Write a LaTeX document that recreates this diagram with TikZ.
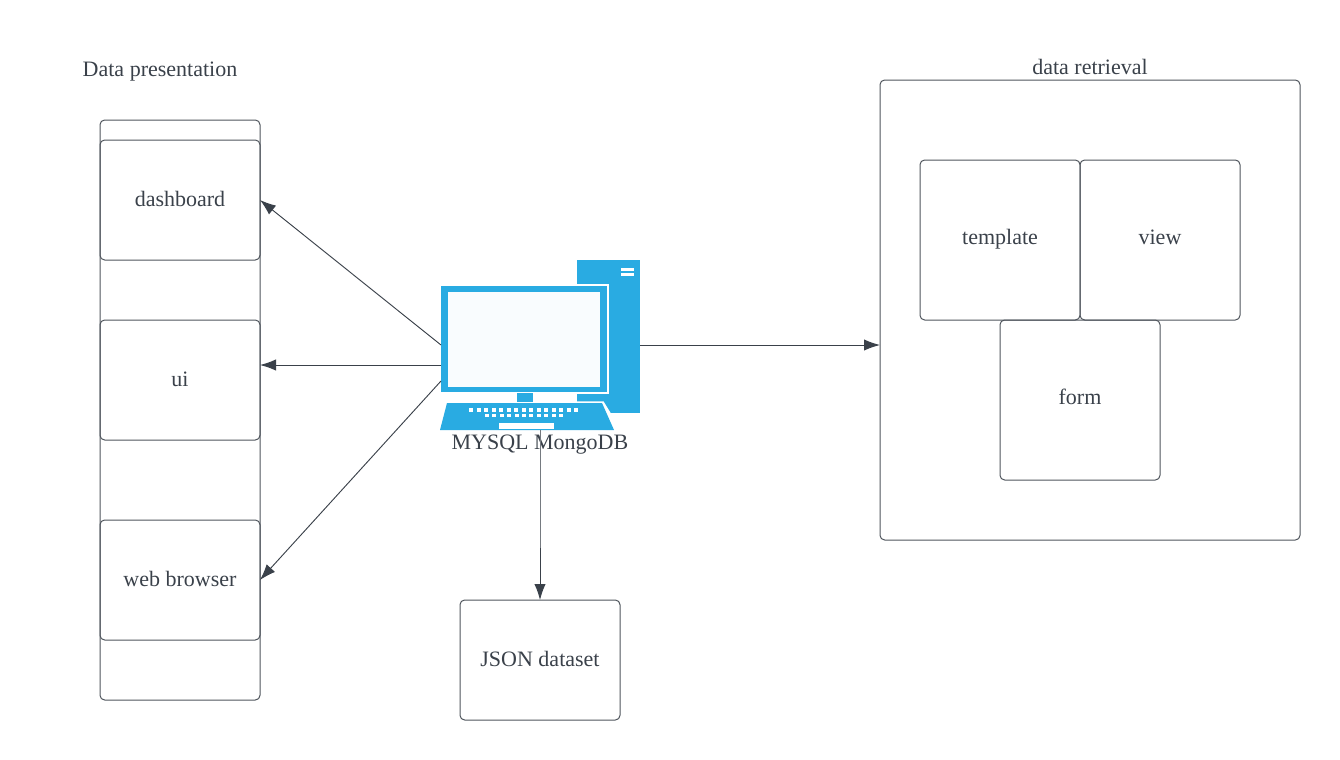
\documentclass[tikz,border=0pt]{standalone}
\usepackage{fontspec}
\setmainfont{Liberation Serif}
\usepackage{tikz}
\usetikzlibrary{arrows.meta,positioning}
\usepackage{xcolor}
\definecolor{ink}{HTML}{3A414A}
\definecolor{pcblue}{HTML}{29ABE2}
\definecolor{screen}{HTML}{F9FCFE}
\tikzset{
  >={Latex[length=12pt,width=8.5pt]},
  every node/.style={font=\fontsize{16.5}{19}\selectfont,text=ink,text height=12pt,text depth=2pt},
  box/.style={draw=ink!90,line width=.75pt,rounded corners=3.5pt,outer sep=0pt,inner sep=0pt,minimum width=120pt,minimum height=90pt,align=center},
  listbox/.style={box,minimum height=435pt},
  framebox/.style={box,minimum width=315pt,minimum height=345pt},
  tallbox/.style={box,minimum height=120pt,text height=10.5pt,text depth=3.5pt},
  title/.style={inner sep=0pt},
  arrow/.style={->,line width=.7pt,draw=ink},
  thinline/.style={line width=.6pt,draw=ink!70},
  pcwhite/.style={fill=white,draw=none},
}
\begin{document}
\begin{tikzpicture}[x=.75pt,y=-.75pt,node distance=45pt and 0pt]
\useasboundingbox (0,0) rectangle (1340,760);

\node[listbox] (list) at (180,410) {};
\node[box] (dash) at (180,200) {dashboard};
\node[box,below=45pt of dash] (ui) {ui};
\node[box,below=60pt of ui] (web) {web browser};
\node[title] (present) at (160,69.5) {Data presentation};

\node[framebox] (retr) at (1090,310) {};
\node[tallbox] (templ) at (1000,240) {template};
\node[tallbox,right=0pt of templ] (view) {view};
\node[tallbox] (form) at (1080,400) {form};
\node[title] (retrtitle) at (1090,67.5) {data retrieval};

\node[box] (json) at (540,660) {JSON dataset};

% computer
\coordinate (pcA) at (441,345);
\coordinate (pcB) at (441,365);
\coordinate (pcC) at (441,381);
\coordinate (pcD) at (640,345);
\coordinate (pcE) at (540,430);
\coordinate (pcF) at (540,548);
\fill[pcblue] (577,260) rectangle (640,413);
\fill[pcwhite] (621,268) rectangle (634,271);
\fill[pcwhite] (621,273) rectangle (634,276);
\fill[pcwhite] (441,284) rectangle (609,394);
\fill[pcblue] (441,286) rectangle (607,392);
\fill[screen] (448,292) rectangle (600,387);
\fill[pcblue] (517,393) rectangle (533,402);
\fill[pcwhite] (577,401.3) -- (603.5,401.3) -- (611,413.5) -- (604,413.5) -- (577,413.5) -- cycle;
\fill[pcblue] (447,403) -- (602,403) -- (614,430) -- (440,430) -- cycle;
\foreach \i in {0,...,14}
  \fill[pcwhite] ({469+7.5*\i},408) rectangle ++(4,3.5);
\foreach \i in {0,...,10}
  \fill[pcwhite] ({485+7.4*\i},413.5) rectangle ++(4,3.5);
\fill[pcwhite] (499,423) rectangle (554,429);

\node[title] (pclabel) at (540,442.5) {MYSQL MongoDB};

\draw[arrow] (pcA) -- (dash.east);
\draw[arrow] (pcB) -- (ui.east |- pcB);
\draw[arrow] (pcC) -- (web.east);
\draw[arrow] (pcD) -- (retr.west |- pcD);
\draw[thinline] (pcE) -- (pcF);
\draw[arrow] (pcF) -- (json.north);

\end{tikzpicture}
\end{document}
